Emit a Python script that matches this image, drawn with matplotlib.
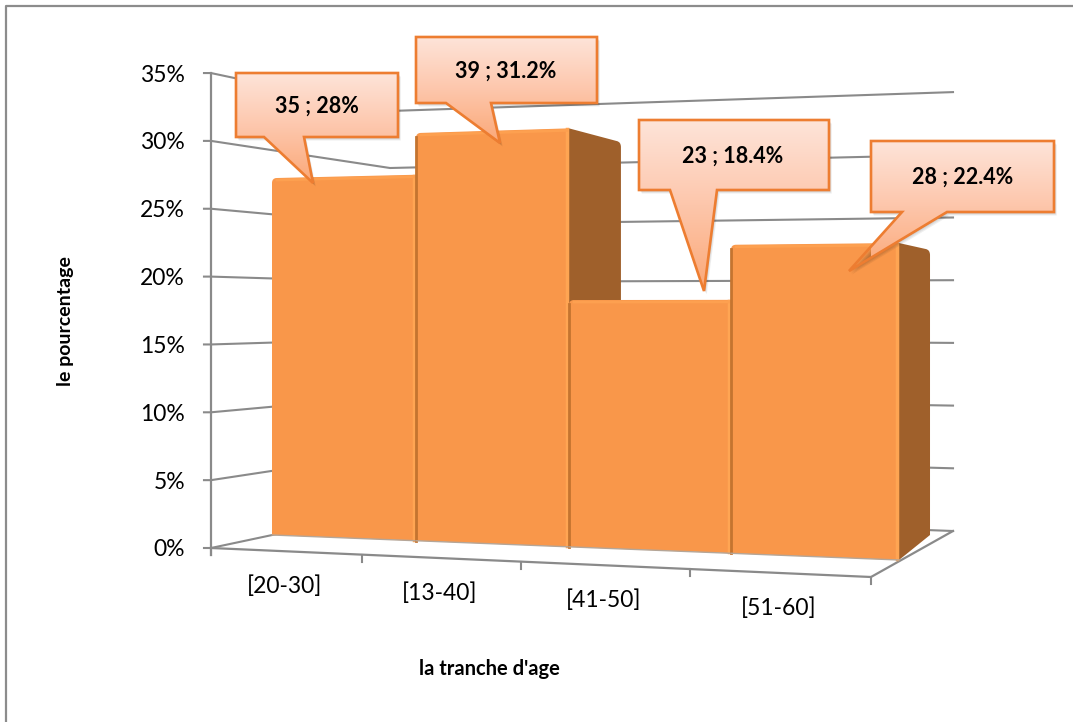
import numpy as np
import matplotlib
matplotlib.use("Agg")
import matplotlib.pyplot as plt
from matplotlib.colors import LinearSegmentedColormap
from matplotlib.patches import Polygon, PathPatch
from matplotlib.path import Path

plt.rcParams['font.family'] = ['Lato', 'DejaVu Sans']

# data
categories = ["[20-30]", "[13-40]", "[41-50]", "[51-60]"]
counts = [35, 39, 23, 28]
percents = [28, 31.2, 18.4, 22.4]
value_ticks = [0, 5, 10, 15, 20, 25, 30, 35]

# pixel layout of the fake 3d scene
bar_edges = [272, 416, 569, 731, 899]
x_ticks = [211, 362, 521, 690, 871]
cat_pos = [(285, 586), (440, 593), (604, 600), (779, 608)]
callout_rects = [(236, 73, 398, 137), (416, 37, 597, 103), (639, 120, 829, 190), (871, 141, 1054, 212)]
callout_base = [(264, 304), (446, 491), (670, 717), (902, 947)]
callout_tips = [(313, 183), (500, 143), (704, 291), (849, 271)]
callout_text = [(317, 106), (506, 71), (733, 156), (963, 177)]

GRID = "#8a8a8a"
ORANGE = "#f9974a"
SIDE = "#9f602b"
EDGE = "#ed7d31"


def front_bottom(x):
    return 535 + (x - 272) * 25 / 627


def front_scale(x):
    return 12.75 + (x - 272) * 1.40 / 627


def back_x(x):
    return x + 52 - (x - 568) * 0.0634


def back_bottom(bx):
    return 524 + (bx - 620) * 11 / 310


def back_scale(bx):
    return 12.24 + (bx - 620) * 0.48 / 310


def wall_y(v):
    # y of a value on the front-left, back-left and back-right corners
    return 548 - 13.57 * v, 510 - 11.4 * v, 531 - 12.54 * v


fig = plt.figure(figsize=(10.73, 7.22), dpi=100)
ax = fig.add_axes([0, 0, 1, 1])

# chart border, only left and top show
ax.plot([6, 6, 1073], [722, 6, 6], c="#8c8c8c", lw=1.6, zorder=1)

# walls
for v in value_ticks:
    y0, y1, y2 = wall_y(v)
    ax.plot([204, 211, 390, 953], [y0, y0, y1, y2], c=GRID, lw=1.5, zorder=2)
    ax.text(185, y0 + 2, "%d%%" % v, ha="right", va="center", fontsize=16.5, color="#000000", zorder=8)
ax.plot([211, 211], [wall_y(35)[0], 555], c=GRID, lw=1.6, zorder=2)

# floor
ax.plot([211, 871, 953], [548, 577, 531], c=GRID, lw=1.6, zorder=2)
for x in x_ticks:
    y = 548 + (x - 211) * 29 / 660
    ax.plot([x, x], [y, y + 7], c=GRID, lw=1.5, zorder=2)

# bars, left to right so each one hides the side of the previous one
for i, p in enumerate(percents):
    x0, x1 = bar_edges[i], bar_edges[i + 1]
    y0b, y1b = front_bottom(x0), front_bottom(x1)
    y0t = y0b - p * front_scale(x0)
    y1t = y1b - p * front_scale(x1)
    bx = back_x(x1)
    byb = back_bottom(bx)
    byt = byb - p * back_scale(bx)
    z = 3 + i

    side = Path([(x1, y1b), (x1, y1t), (bx - 4, byt - 1), (bx, byt), (bx, byt + 5), (bx, byb), (x1, y1b)],
                [Path.MOVETO, Path.LINETO, Path.LINETO, Path.CURVE3, Path.CURVE3, Path.LINETO, Path.CLOSEPOLY])
    ax.add_patch(PathPatch(side, fc=SIDE, ec="none", zorder=z))

    front = Path([(x0, y0b), (x0, y0t + 5), (x0, y0t), (x0 + 5, y0t), (x1, y1t), (x1, y1b), (x0, y0b)],
                 [Path.MOVETO, Path.LINETO, Path.CURVE3, Path.CURVE3, Path.LINETO, Path.LINETO, Path.CLOSEPOLY])
    ax.add_patch(PathPatch(front, fc=ORANGE, ec="none", zorder=z + 0.1))

    # bevels
    ax.plot([x1 - 2, x1 - 2], [y1t + 1, y1b - 1], c="#ffa553", lw=2.5, zorder=z + 0.2)
    ax.plot([x0 + 5, x1 - 2], [y0t + 2, y1t + 2], c="#fda050", lw=2, zorder=z + 0.2)
    if i > 0:
        ax.plot([x0, x0], [y0t + 4, y0b], c="#c47430", lw=2, zorder=z + 0.3)
    ax.plot([x0, x1], [y0b, y1b], c="#b5a698", lw=1, zorder=z + 0.3)

# callouts
cmap = LinearSegmentedColormap.from_list("callout", ["#fee4d9", "#fdc6ab", "#fba877"])
grad = np.linspace(0, 1, 256).reshape(-1, 1)
for i in range(len(counts)):
    l, t, r, b = callout_rects[i]
    b0, b1 = callout_base[i]
    tip = callout_tips[i]
    pts = [(l, t), (r, t), (r, b), (b1, b), tip, (b0, b), (l, b)]
    for k in range(1, 5):
        sh = [(px + k * 0.7, py + k * 0.9) for px, py in pts]
        ax.add_patch(Polygon(sh, closed=True, fc="#000000", alpha=0.06, ec="none", zorder=9))
    poly = Polygon(pts, closed=True, fc="none", ec=EDGE, lw=1.9, joinstyle="miter", zorder=10.2)
    clip = Polygon(pts, closed=True, transform=ax.transData)
    im = ax.imshow(grad, cmap=cmap, extent=(l, r, max(b, tip[1]), t), origin="upper", aspect="auto", zorder=10)
    im.set_clip_path(clip)
    ax.add_patch(poly)
    ax.text(callout_text[i][0], callout_text[i][1], "%d ; %s%%" % (counts[i], percents[i]),
            ha="center", va="center", fontsize=15.5, fontweight="bold", color="#000000", zorder=11)

# axis labels
for name, (x, y) in zip(categories, cat_pos):
    ax.text(x, y, name, ha="center", va="center", fontsize=16.5, color="#000000")
ax.text(66, 321, "le pourcentage", rotation=90, ha="center", va="center", fontsize=14, fontweight="bold", color="#000000")
ax.text(489, 669, "la tranche d'age", ha="center", va="center", fontsize=14.5, fontweight="bold", color="#000000")

ax.set_xlim(0, 1073)
ax.set_ylim(722, 0)
ax.axis("off")

fig.savefig("out.png", dpi=100)
